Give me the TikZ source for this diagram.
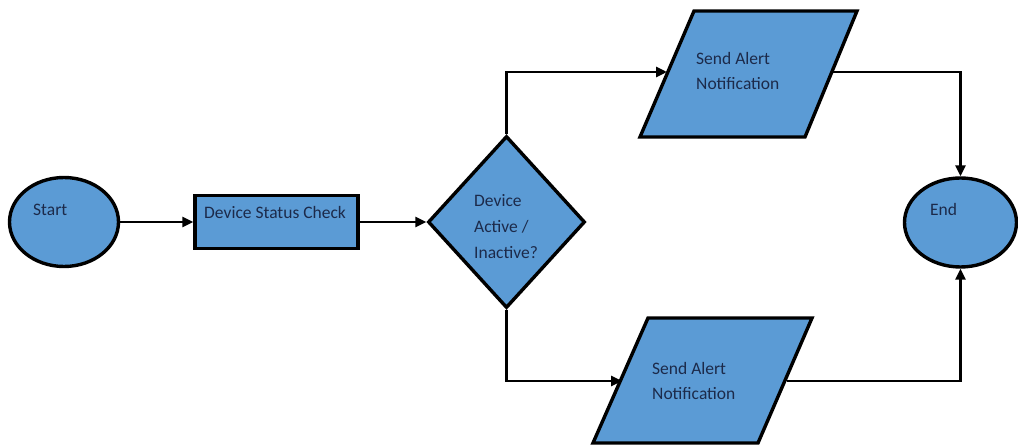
\documentclass[tikz,border=0pt]{standalone}
\usepackage{fontspec}
\setmainfont{Carlito}
\usetikzlibrary{shapes.geometric,arrows.meta}
\definecolor{boxblue}{HTML}{5B9BD5}
\definecolor{txtblue}{HTML}{1C2A4A}
\newcommand{\mylines}[2][25]{{\fontsize{17.5}{#1}\selectfont\begin{tabular}[t]{@{}l@{}}#2\end{tabular}}}
\begin{document}
\begin{tikzpicture}[x=1pt,y=-1pt,
  shapeline/.style={draw=black,line width=3.4pt,fill=boxblue,line join=miter},
  lbl/.style={text=txtblue,font=\fontsize{17.5}{25}\selectfont,anchor=base west,inner sep=0pt},
  conn/.style={draw=black,line width=2.8pt,-{Triangle[length=11pt,width=10pt]}}]
\useasboundingbox (0,0) rectangle (1018,446);
% Start
\node[shapeline,ellipse,minimum width=109pt,minimum height=89pt,inner sep=0pt] (start) at (64,222) {};
\node[lbl] (starttxt) at (33,216) {Start};
% Device status check
\node[shapeline,rectangle,minimum width=163pt,minimum height=53pt,inner sep=0pt] (check) at (276.5,222) {};
\node[lbl] (checktxt) at (204,219) {Device Status Check};
% Diamond
\node[shapeline,diamond,minimum width=157pt,minimum height=172pt,inner sep=0pt,aspect=0.9] (dec) at (506.5,222) {};
\node[lbl] (dectxt) at (474,207) {\mylines[26]{Device\\Active /\\Inactive?}};
% Top parallelogram
\draw[shapeline] (694,11) -- (857,11) -- (805,137) -- (640,137) -- cycle;
\coordinate (p1in) at (667,72);
\coordinate (p1out) at (832,72);
\node[lbl] (p1txt) at (696,65) {\mylines{Send Alert\\Notification}};
% Bottom parallelogram
\draw[shapeline] (648,318) -- (812,318) -- (758,443) -- (593,443) -- cycle;
\coordinate (p2in) at (622,381);
\coordinate (p2out) at (787,381);
\node[lbl] (p2txt) at (652,374) {\mylines{Send Alert\\Notification}};
% End
\node[shapeline,ellipse,minimum width=112pt,minimum height=89pt,inner sep=0pt] (end) at (960.5,222.5) {};
\node[lbl] (endtxt) at (930,216) {End};
% connectors
\draw[conn] (start.east) -- (check.west);
\draw[conn] (check.east) -- (dec.west);
\draw[conn] (dec.north) |- (p1in);
\draw[conn] (dec.south) |- (p2in);
\draw[conn] (p1out) -| (end.north);
\draw[conn] (p2out) -| (end.south);
\end{tikzpicture}
\end{document}
